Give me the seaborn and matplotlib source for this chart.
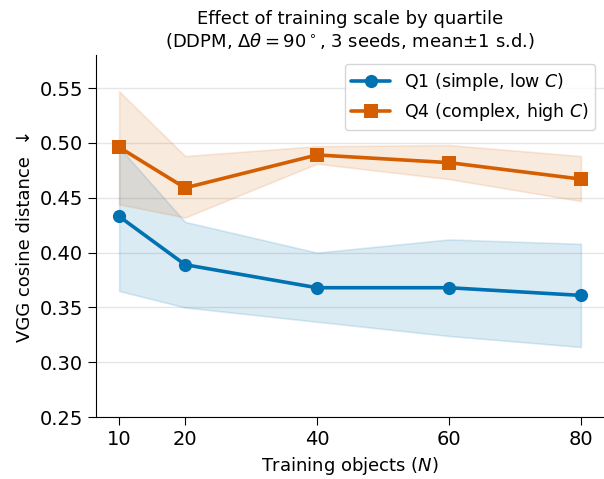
import pandas as pd
import matplotlib.pyplot as plt
import seaborn as sns

# Valores
n_objects = [10, 20, 40, 60, 80]

q1_mean = [0.433, 0.389, 0.368, 0.368, 0.361]
q1_lo = [0.365, 0.350, 0.337, 0.324, 0.314]
q1_hi = [0.496, 0.428, 0.400, 0.412, 0.408]

q4_mean = [0.496, 0.459, 0.489, 0.482, 0.467]
q4_lo = [0.444, 0.432, 0.481, 0.467, 0.447]
q4_hi = [0.547, 0.488, 0.497, 0.498, 0.488]

labels = ['Q1 (simple, low $C$)', 'Q4 (complex, high $C$)']
colors = ['#0072B2', '#D55E00']
markers = ['o', 's']

df = pd.DataFrame({
    'N': n_objects * 2,
    'dist': q1_mean + q4_mean,
    'group': [labels[0]] * len(n_objects) + [labels[1]] * len(n_objects),
})

sns.set_style('ticks')
plt.rcParams['font.family'] = ['DejaVu Sans']
plt.rcParams.update({'text.color': 'black', 'axes.labelcolor': 'black',
                     'xtick.color': 'black', 'ytick.color': 'black',
                     'axes.edgecolor': 'black'})

fig = plt.figure(figsize=(6.04, 4.79), dpi=100)
ax = fig.add_axes([0.159, 0.129, 0.841, 0.756])

ax.fill_between(n_objects, q1_lo, q1_hi, color=colors[0], alpha=0.14, linewidth=1.2)
ax.fill_between(n_objects, q4_lo, q4_hi, color=colors[1], alpha=0.13, linewidth=1.2)

sns.lineplot(data=df, x='N', y='dist', hue='group', style='group',
             palette=colors, markers=markers, dashes=False,
             linewidth=2.6, markersize=9.5, markeredgewidth=0, ax=ax)

ax.set_xlim(6.5, 83.5)
ax.set_ylim(0.25, 0.58)
ax.set_xticks(n_objects)
ax.set_yticks([0.25, 0.30, 0.35, 0.40, 0.45, 0.50, 0.55])
ax.tick_params(labelsize=14, length=6)
ax.grid(axis='y', color='#e6e6e6', linewidth=1)
ax.set_axisbelow(True)
sns.despine(ax=ax)

ax.set_xlabel('Training objects ($N$)', fontsize=13)
ax.set_ylabel('VGG cosine distance  \u2193', fontsize=13)
ax.set_title('Effect of training scale by quartile\n'
             '(DDPM, $\\Delta\\theta = 90^\\circ$, 3 seeds, mean\u00b11 s.d.)',
             fontsize=13)

leg = ax.legend(loc='upper right', fontsize=12.5, frameon=True, title=None,
                handlelength=2.2, borderaxespad=0.5)
leg.get_frame().set_edgecolor('#cccccc')

fig.savefig('out.png', dpi=100)
